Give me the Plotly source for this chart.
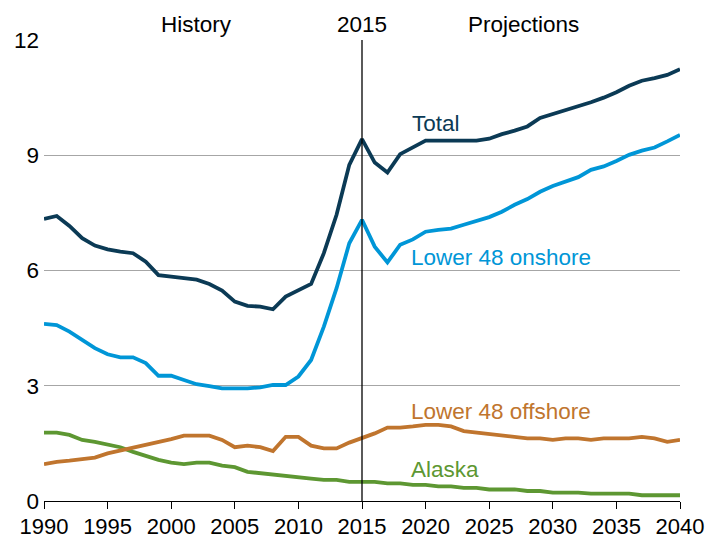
import plotly.graph_objects as go

years = list(range(1990, 2041))

total = [7.34, 7.42, 7.16, 6.84, 6.65, 6.55, 6.49, 6.45, 6.23, 5.88,
         5.84, 5.80, 5.76, 5.65, 5.48, 5.19, 5.08, 5.06, 4.99, 5.32,
         5.48, 5.65, 6.45, 7.45, 8.75, 9.42, 8.81, 8.55, 9.03, 9.20,
         9.38, 9.38, 9.38, 9.38, 9.38, 9.43, 9.55, 9.64, 9.75, 9.97,
         10.07, 10.16, 10.27, 10.38, 10.50, 10.64, 10.81, 10.94, 11.01, 11.09,
         11.24]

onshore = [4.61, 4.58, 4.41, 4.19, 3.98, 3.82, 3.74, 3.74, 3.59, 3.26,
           3.26, 3.15, 3.04, 2.99, 2.93, 2.93, 2.93, 2.96, 3.02, 3.02,
           3.24, 3.67, 4.54, 5.54, 6.71, 7.32, 6.62, 6.21, 6.67, 6.81,
           7.01, 7.06, 7.09, 7.19, 7.30, 7.39, 7.53, 7.71, 7.86, 8.05,
           8.20, 8.32, 8.43, 8.62, 8.71, 8.85, 9.01, 9.12, 9.20, 9.36,
           9.53]

offshore = [0.96, 1.02, 1.05, 1.09, 1.13, 1.24, 1.31, 1.39, 1.46, 1.54,
            1.61, 1.70, 1.70, 1.70, 1.59, 1.40, 1.44, 1.40, 1.30, 1.67,
            1.67, 1.44, 1.37, 1.37, 1.52, 1.63, 1.76, 1.91, 1.91, 1.94,
            1.98, 1.98, 1.94, 1.82, 1.78, 1.74, 1.70, 1.67, 1.63, 1.63,
            1.59, 1.63, 1.63, 1.59, 1.63, 1.63, 1.63, 1.67, 1.63, 1.54,
            1.59]

alaska = [1.78, 1.78, 1.72, 1.59, 1.54, 1.48, 1.40, 1.28, 1.17, 1.07,
          1.00, 0.96, 1.00, 1.00, 0.92, 0.88, 0.76, 0.72, 0.68, 0.65,
          0.62, 0.58, 0.55, 0.55, 0.50, 0.50, 0.50, 0.46, 0.46, 0.42,
          0.42, 0.38, 0.38, 0.34, 0.34, 0.30, 0.30, 0.30, 0.26, 0.26,
          0.22, 0.22, 0.22, 0.19, 0.19, 0.19, 0.19, 0.15, 0.15, 0.15,
          0.15]

series = [
    ("Alaska", alaska, "#5d9732"),
    ("Lower 48 offshore", offshore, "#c0752e"),
    ("Lower 48 onshore", onshore, "#0096d7"),
    ("Total", total, "#0b3a55"),
]

# label anchor (x year, y value) for each series
labels = {
    "Total": (2018.8, 9.82),
    "Lower 48 onshore": (2018.7, 6.34),
    "Lower 48 offshore": (2018.7, 2.34),
    "Alaska": (2018.7, 0.83),
}

period_labels = ["History", "2015", "Projections"]
period_x = [2002.0, 2015.0, 2027.7]

FONT = "Liberation Sans, Arial, sans-serif"
FS = 22.5

fig = go.Figure()
for name, vals, color in series:
    fig.add_trace(go.Scatter(x=years, y=vals, mode="lines", name=name,
                             line=dict(color=color, width=3.8),
                             cliponaxis=False, hoverinfo="skip"))
    lx, ly = labels[name]
    fig.add_annotation(x=lx, y=ly, text=name, showarrow=False,
                       xanchor="left", yanchor="middle",
                       font=dict(family=FONT, size=FS, color=color))

# period headers above the plot area
for txt, xv in zip(period_labels, period_x):
    fig.add_annotation(x=xv, xref="x", y=1.0, yref="paper", yshift=16,
                       text=txt, showarrow=False,
                       xanchor="center", yanchor="middle",
                       font=dict(family=FONT, size=FS, color="#000000"))

# divider between history and projections
fig.add_shape(type="line", x0=2015, x1=2015, y0=0, y1=12, xref="x", yref="y",
              line=dict(color="#000000", width=1.3), layer="above")

fig.update_layout(
    width=709, height=539,
    margin=dict(l=44, r=29, t=40, b=38, autoexpand=False),
    plot_bgcolor="white", paper_bgcolor="white",
    showlegend=False,
    font=dict(family=FONT, size=FS, color="#000000"),
    xaxis=dict(range=[1990, 2040], tickvals=list(range(1990, 2041, 5)),
               automargin=False,
               showgrid=False, zeroline=False,
               showline=True, linecolor="#000000", linewidth=1.3,
               ticks="outside", ticklen=7, tickcolor="#000000", tickwidth=1.3,
               ticklabelstandoff=-2,
               tickfont=dict(family=FONT, size=22, color="#000000")),
    yaxis=dict(range=[0, 12], tickvals=[0, 3, 6, 9, 12],
               automargin=False,
               showgrid=True, gridcolor="#a6a6a6", gridwidth=1,
               zeroline=False, showline=False, ticks="",
               ticklabelstandoff=4,
               tickfont=dict(family=FONT, size=FS, color="#000000")),
)

fig.write_html("out.html")
